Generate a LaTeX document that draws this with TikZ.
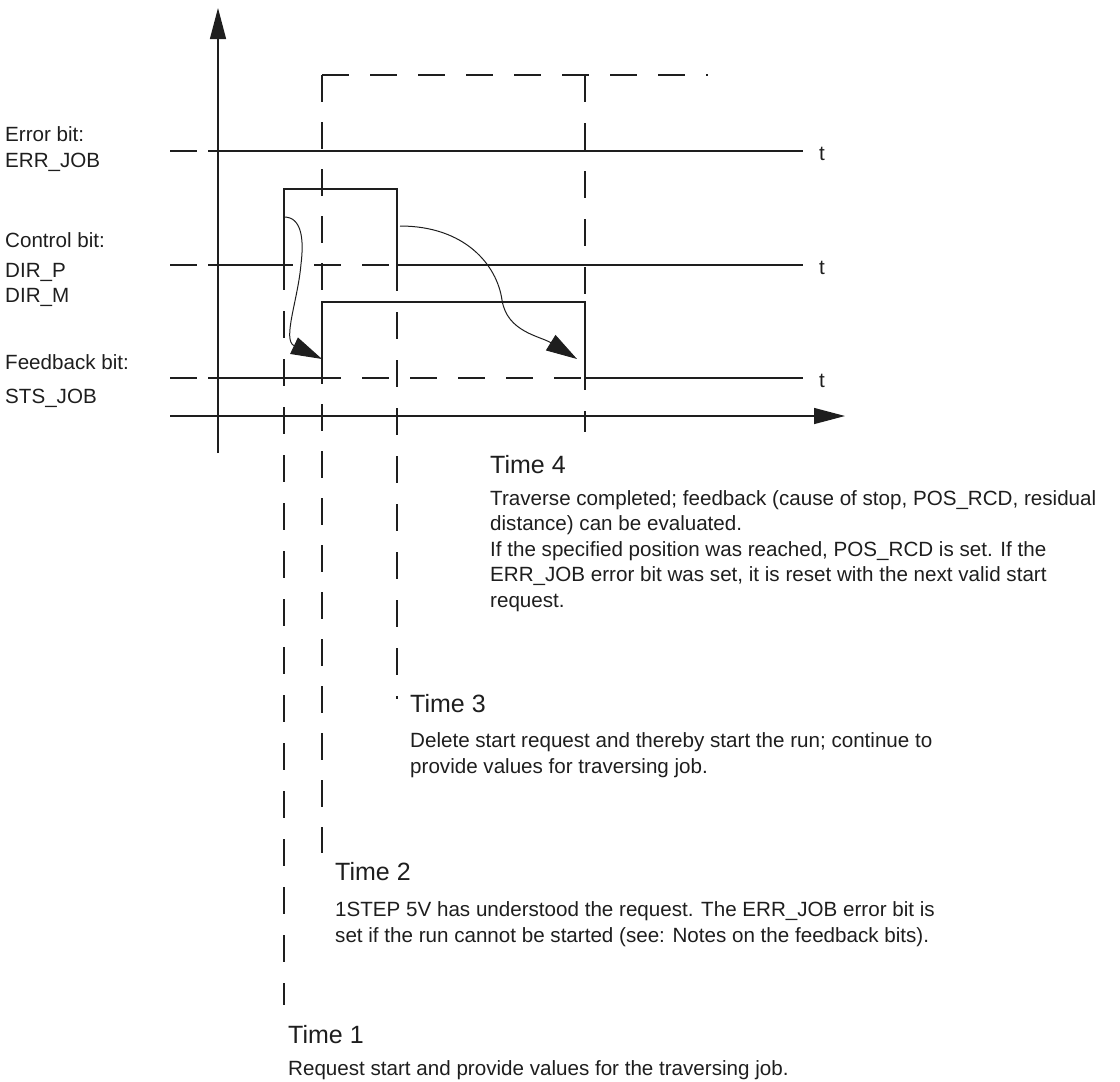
\documentclass[tikz,border=0pt]{standalone}
\usepackage{fontspec}
\setmainfont{Liberation Sans}
\usetikzlibrary{arrows.meta}
\definecolor{ink}{RGB}{30,30,30}
\tikzset{
  lbl/.style={anchor=base west, inner sep=0pt, font=\fontsize{20.6}{24}\selectfont, text=ink},
  head/.style={anchor=base west, inner sep=0pt, font=\fontsize{25}{30}\selectfont, text=ink},
  sig/.style={draw=ink, line width=1.4pt, line join=miter},
  guide/.style={draw=ink, line width=1.3pt, dash pattern=on 27pt off 21pt},
  guideb/.style={draw=ink, line width=1.3pt, dash pattern=on 27pt off 20pt},
  ax/.style={draw=ink, line width=1.4pt, -{Triangle[length=31pt,width=16pt]}},
  flow/.style={draw=ink, line width=1pt, -{Triangle[length=31pt,width=18pt]}},
}
\begin{document}
\begin{tikzpicture}[x=1pt,y=-1pt]
\useasboundingbox (0,0) rectangle (1120,1082);

% coordinates
\coordinate (yb) at (218,453);
\coordinate (yt) at (218,8);
\coordinate (xl) at (170,416);
\coordinate (xr) at (845,416);

% axes
\draw[ax] (yb) -- (yt);
\draw[ax] (xl) -- (xr);

% horizontal guide lines
\draw[guide] (170,151) -- (803,151);
\draw[guide] (170,265) -- (803,265);
\draw[guide] (170,378) -- (803,378);

% error bit (dashed possible state)
\draw[guideb] (322,75) -- (322,853);
\draw[guide] (322,75) -- (708,75);
\draw[guide] (585,75) -- (585,432);

% time marker lines
\draw[guide, dash phase=2pt] (284,265) -- (284,1005);
\draw[guide, dash phase=1pt] (397,265) -- (397,699);

% signals
\draw[sig] (208,151) -- (803,151);
\draw[sig] (208,265) -- (284,265) -- (284,189) -- (397,189) -- (397,265) -- (803,265);
\draw[sig] (208,378) -- (322,378) -- (322,302) -- (585,302) -- (585,378) -- (803,378);

% curved arrows
\draw[flow] (284,217) .. controls (302,217) and (304,240) .. (301,264)
            .. controls (298,300) and (282,340) .. (322,359);
\draw[flow] (400,226) .. controls (465,226) and (497,265) .. (502,300)
            .. controls (507,332) and (540,336) .. (577,359);

% t labels
\node[lbl] (t1) at (819,160) {t};
\node[lbl] (t2) at (819,274) {t};
\node[lbl] (t3) at (819,387) {t};

% left labels
\node[lbl] (l1) at (5,141) {Error bit:};
\node[lbl] (l2) at (5,167) {ERR\_JOB};
\node[lbl] (l3) at (5,247) {Control bit:};
\node[lbl] (l4) at (5,277) {DIR\_P};
\node[lbl] (l5) at (5,302) {DIR\_M};
\node[lbl] (l6) at (5,369) {Feedback bit:};
\node[lbl] (l7) at (5,403) {STS\_JOB};

% Time 4
\node[head] (h4) at (490,473) {Time 4};
\node[lbl] (b41) at (490,505) {Traverse completed; feedback (cause of stop, POS\_RCD, residual};
\node[lbl] (b42) at (490,530.5) {distance) can be evaluated.};
\node[lbl] (b43) at (490,556) {If the specified position was reached, POS\_RCD is set. If the};
\node[lbl] (b44) at (490,581.5) {ERR\_JOB error bit was set, it is reset with the next valid start};
\node[lbl] (b45) at (490,607) {request.};

% Time 3
\node[head] (h3) at (410,712) {Time 3};
\node[lbl] (b31) at (410,747) {Delete start request and thereby start the run; continue to};
\node[lbl] (b32) at (410,773) {provide values for traversing job.};

% Time 2
\node[head] (h2) at (335,880) {Time 2};
\node[lbl] (b21) at (335,916) {1STEP 5V has understood the request. The ERR\_JOB error bit is};
\node[lbl] (b22) at (335,942) {set if the run cannot be started (see: Notes on the feedback bits).};

% Time 1
\node[head] (h1) at (288,1043) {Time 1};
\node[lbl] (b11) at (288,1075) {Request start and provide values for the traversing job.};
\end{tikzpicture}
\end{document}
